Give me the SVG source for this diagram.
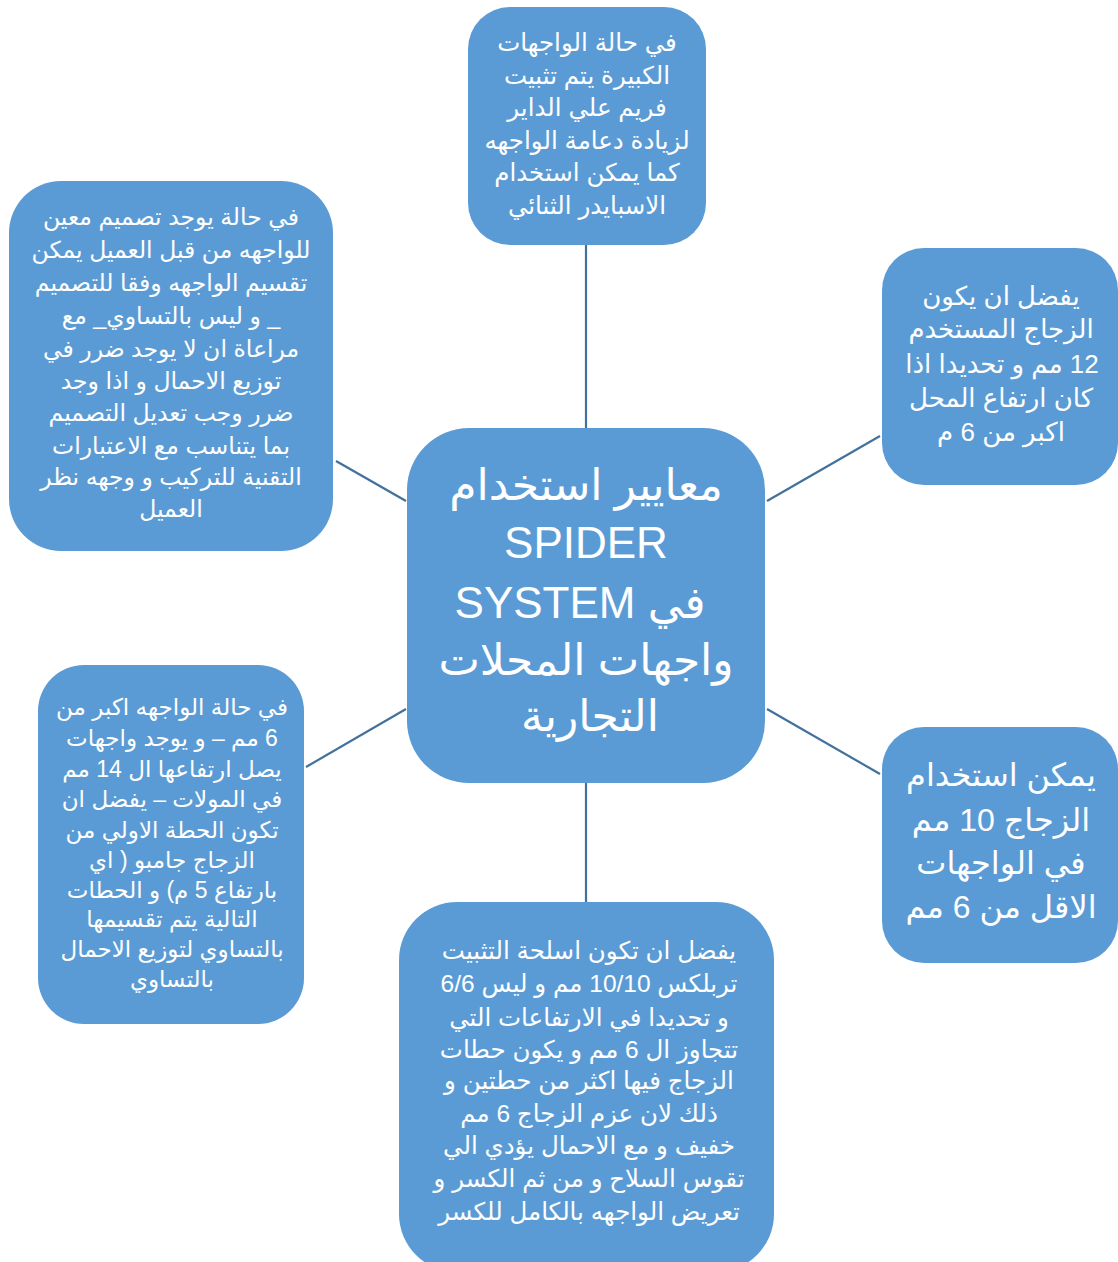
<svg xmlns="http://www.w3.org/2000/svg" width="1118" height="1262" viewBox="0 0 1118 1262">
  <style>
    .box { fill: #5B9BD5; }
    .link { stroke: #41719C; stroke-width: 2.2; fill: none; }
    .t { fill: #FFFFFF; font-family: "Liberation Sans", "DejaVu Sans", sans-serif; text-anchor: middle; direction: rtl; }
    .s23 { font-size: 23px; }
    .s235 { font-size: 23.5px; }
    .s245 { font-size: 24.5px; }
    .s26 { font-size: 26px; }
    .s32 { font-size: 32px; }
    .s44 { font-size: 44px; }
  </style>
  <rect width="1118" height="1262" fill="#FFFFFF"/>

  <!-- connectors from the hub to each satellite -->
  <g id="connectors">
    <line class="link" x1="586" y1="245" x2="586" y2="428"/>
    <line class="link" x1="336" y1="461" x2="406" y2="501"/>
    <line class="link" x1="767" y1="501" x2="880" y2="436"/>
    <line class="link" x1="306" y1="767" x2="406" y2="709"/>
    <line class="link" x1="767" y1="709" x2="880" y2="774"/>
    <line class="link" x1="586" y1="783" x2="586" y2="902"/>
  </g>

  <!-- hub -->
  <g id="hub">
    <rect class="box" x="407" y="428" width="358" height="355" rx="62"/>
    <text class="t s44" x="586" y="500">معايير  استخدام</text>
    <text class="t s44" x="586" y="558">SPIDER</text>
    <text class="t s44" x="580" y="618">في  SYSTEM</text>
    <text class="t s44" x="586" y="675">واجهات المحلات</text>
    <text class="t s44" x="590" y="731">التجارية</text>
  </g>

  <!-- top: large facades -->
  <g id="node-top">
    <rect class="box" x="468" y="7" width="238" height="238" rx="42"/>
    <text class="t s245" x="587" y="51">في حالة الواجهات</text>
    <text class="t s245" x="587" y="84">الكبيرة يتم تثبيت</text>
    <text class="t s245" x="587" y="116">فريم علي الداير</text>
    <text class="t s245" x="587" y="149">لزيادة دعامة الواجهه</text>
    <text class="t s245" x="587" y="181">كما يمكن استخدام</text>
    <text class="t s245" x="587" y="214">الاسبايدر الثنائي</text>
  </g>

  <!-- upper left: client design -->
  <g id="node-design">
    <rect class="box" x="9" y="181" width="324" height="370" rx="52"/>
    <text class="t s235" x="171" y="225">في حالة يوجد تصميم معين</text>
    <text class="t s235" x="171" y="258">للواجهه من قبل العميل يمكن</text>
    <text class="t s235" x="171" y="291">تقسيم الواجهه وفقا للتصميم</text>
    <text class="t s235" x="171" y="324">_ و ليس بالتساوي_ مع</text>
    <text class="t s235" x="171" y="357">مراعاة ان لا يوجد ضرر في</text>
    <text class="t s235" x="171" y="389">توزيع الاحمال و اذا وجد</text>
    <text class="t s235" x="171" y="421">ضرر  وجب تعديل التصميم</text>
    <text class="t s235" x="171" y="454">بما يتناسب مع الاعتبارات</text>
    <text class="t s235" x="171" y="485">التقنية للتركيب و وجهه نظر</text>
    <text class="t s235" x="171" y="517">العميل</text>
  </g>

  <!-- upper right: 12 mm glass -->
  <g id="node-12mm">
    <rect class="box" x="882" y="248" width="236" height="237" rx="42"/>
    <text class="t s26" x="1001" y="305">يفضل ان يكون</text>
    <text class="t s26" x="1001" y="338">الزجاج المستخدم</text>
    <text class="t s26" x="1002" y="373">12 مم و تحديدا اذا</text>
    <text class="t s26" x="1001" y="407">كان ارتفاع المحل</text>
    <text class="t s26" x="1001" y="441">اكبر من 6 م</text>
  </g>

  <!-- lower left: mall facades -->
  <g id="node-mall">
    <rect class="box" x="38" y="665" width="266" height="359" rx="46"/>
    <text class="t s23" x="172" y="715">في حالة الواجهه اكبر من</text>
    <text class="t s23" x="172" y="746">6 مم – و يوجد واجهات</text>
    <text class="t s23" x="172" y="777">يصل ارتفاعها ال 14 مم</text>
    <text class="t s23" x="172" y="807">في المولات – يفضل ان</text>
    <text class="t s23" x="172" y="838">تكون الحطة الاولي من</text>
    <text class="t s23" x="172" y="868">الزجاج جامبو ( اي</text>
    <text class="t s23" x="172" y="898">بارتفاع 5 م) و الحطات</text>
    <text class="t s23" x="172" y="927">التالية يتم تقسيمها</text>
    <text class="t s23" x="172" y="957">بالتساوي لتوزيع الاحمال</text>
    <text class="t s23" x="172" y="987">بالتساوي</text>
  </g>

  <!-- lower right: 10 mm glass -->
  <g id="node-10mm">
    <rect class="box" x="882" y="727" width="236" height="236" rx="42"/>
    <text class="t s32" x="1001" y="786">يمكن استخدام</text>
    <text class="t s32" x="1001" y="831">الزجاج 10 مم</text>
    <text class="t s32" x="1001" y="874">في الواجهات</text>
    <text class="t s32" x="1001" y="918">الاقل من 6 مم</text>
  </g>

  <!-- bottom: fixing arms -->
  <g id="node-arms">
    <rect class="box" x="399" y="902" width="375" height="370" rx="58"/>
    <text class="t s245" x="589" y="959">يفضل ان تكون اسلحة التثبيت</text>
    <text class="t s245" x="589" y="992">تربلكس 10/10 مم و ليس 6/6</text>
    <text class="t s245" x="589" y="1026">و تحديدا في الارتفاعات التي</text>
    <text class="t s245" x="589" y="1058">تتجاوز ال 6 مم و يكون حطات</text>
    <text class="t s245" x="589" y="1089">الزجاج فيها اكثر من حطتين و</text>
    <text class="t s245" x="589" y="1122">ذلك لان عزم الزجاج 6 مم</text>
    <text class="t s245" x="589" y="1154">خفيف و مع الاحمال يؤدي الي</text>
    <text class="t s245" x="589" y="1187">تقوس السلاح و من ثم الكسر و</text>
    <text class="t s245" x="589" y="1220">تعريض الواجهه بالكامل للكسر</text>
  </g>
</svg>
